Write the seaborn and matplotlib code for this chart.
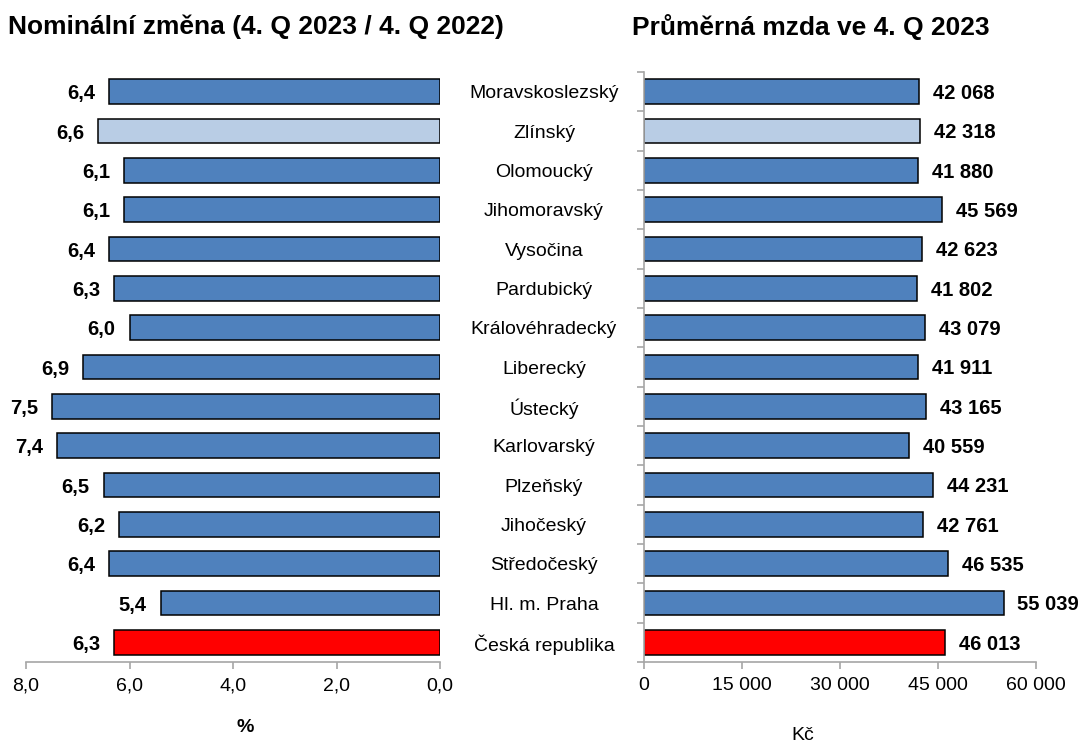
import matplotlib
matplotlib.use("Agg")
import matplotlib.pyplot as plt
import seaborn as sns
import pandas as pd
from matplotlib.ticker import FuncFormatter

# Data
regions = ["Moravskoslezský", "Zlínský", "Olomoucký", "Jihomoravský", "Vysočina",
           "Pardubický", "Královéhradecký", "Liberecký", "Ústecký", "Karlovarský",
           "Plzeňský", "Jihočeský", "Středočeský", "Hl. m. Praha", "Česká republika"]
nominal_change = [6.4, 6.6, 6.1, 6.1, 6.4, 6.3, 6.0, 6.9, 7.5, 7.4, 6.5, 6.2, 6.4, 5.4, 6.3]
avg_wage = [42068, 42318, 41880, 45569, 42623, 41802, 43079, 41911, 43165, 40559,
            44231, 42761, 46535, 55039, 46013]

BLUE = "#4F81BD"
LIGHT = "#B9CDE5"
RED = "#FF0000"
GREY = "#A6A6A6"
colors = [LIGHT if r == "Zlínský" else RED if r == "Česká republika" else BLUE for r in regions]

df = pd.DataFrame({"region": regions, "change": nominal_change, "wage": avg_wage})

sns.set_style("white")
plt.rcParams["font.family"] = ["Liberation Sans", "DejaVu Sans"]
plt.rcParams["text.color"] = "black"
plt.rcParams["xtick.color"] = "black"
plt.rcParams["ytick.color"] = "black"

fig = plt.figure(figsize=(10.81, 7.44), dpi=100)
ax1 = fig.add_axes([26 / 1081, 1 - 662 / 744, 414 / 1081, 590 / 744])
ax2 = fig.add_axes([644 / 1081, 1 - 662 / 744, 392 / 1081, 590 / 744])

for ax, col in [(ax1, "change"), (ax2, "wage")]:
    sns.barplot(data=df, y="region", x=col, hue="region", palette=colors, legend=False,
                orient="h", edgecolor="black", linewidth=1.1, width=0.62, saturation=1, ax=ax)
    ax.set_ylim(14.5, -0.5)
    ax.set_xlabel("")
    ax.set_ylabel("")
    for s in ax.spines.values():
        s.set_color(GREY)
        s.set_linewidth(1.2)

# left chart
ax1.set_xlim(8, 0)
ax1.set_xticks([8, 6, 4, 2, 0])
ax1.xaxis.set_major_formatter(FuncFormatter(lambda v, p: f"{v:.1f}".replace(".", ",")))
ax1.spines[["top", "right", "left"]].set_visible(False)
ax1.set_yticks([])
ax1.tick_params(axis="x", length=5, color=GREY, labelcolor="black", width=1.2, labelsize=14, pad=6, bottom=True)
for i, v in enumerate(nominal_change):
    ax1.annotate(f"{v:.1f}".replace(".", ","), (v, i), xytext=(-10, 0), textcoords="offset points",
                 ha="right", va="center_baseline", fontsize=14.5, fontweight="bold")

# right chart
ax2.set_xlim(0, 60000)
ax2.set_xticks([0, 15000, 30000, 45000, 60000])
ax2.xaxis.set_major_formatter(FuncFormatter(lambda v, p: f"{int(v):,}".replace(",", " ")))
ax2.spines[["top", "right"]].set_visible(False)
ax2.set_yticks(range(len(regions)))
ax2.set_yticklabels(regions, ha="center", va="center_baseline")
ax2.set_yticks([i - 0.5 for i in range(len(regions) + 1)], minor=True)
ax2.tick_params(axis="y", which="major", length=0, pad=72, labelsize=14, labelcolor="black")
ax2.tick_params(axis="y", which="minor", length=5, color=GREY, width=1.2, left=True)
ax2.tick_params(axis="x", length=5, color=GREY, labelcolor="black", width=1.2, labelsize=14, pad=6, bottom=True)
for i, v in enumerate(avg_wage):
    ax2.annotate(f"{v:,}".replace(",", " "), (v, i), xytext=(10, 0), textcoords="offset points",
                 ha="left", va="center_baseline", fontsize=14.5, fontweight="bold")

fig.text(8 / 1081, 1 - 27 / 744, "Nominální změna (4. Q 2023 / 4. Q 2022)", fontsize=19,
         fontweight="bold", va="center", ha="left")
fig.text(632 / 1081, 1 - 27 / 744, "Průměrná mzda ve 4. Q 2023", fontsize=19,
         fontweight="bold", va="center", ha="left")
fig.text(245 / 1081, 1 - 727 / 744, "%", fontsize=14, fontweight="bold", ha="center", va="center")
fig.text(803 / 1081, 1 - 735 / 744, "Kč", fontsize=14, ha="center", va="center")

fig.savefig("out.png", dpi=100)
